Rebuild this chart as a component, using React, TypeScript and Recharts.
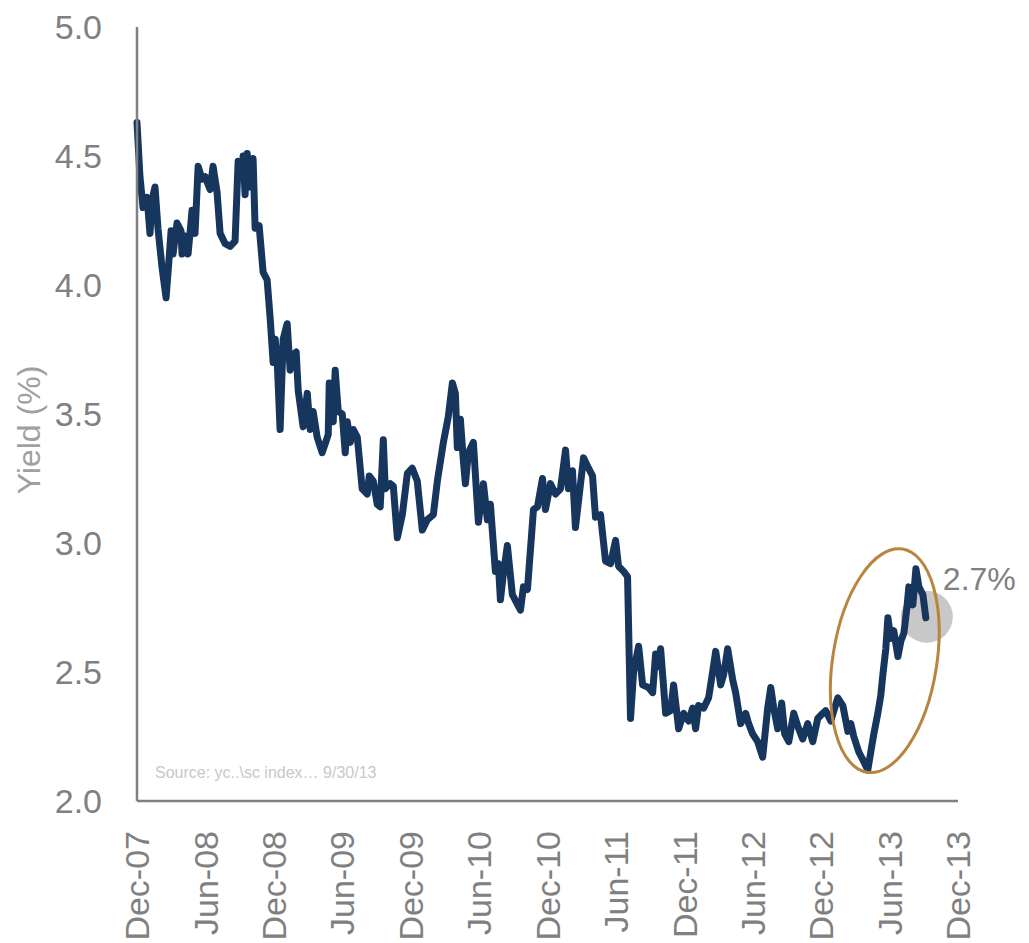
import React from 'react';
import { LineChart, Line, XAxis, YAxis, ReferenceDot } from 'recharts';

// months since Dec-07
const months = [
  0, 0.26, 0.53, 0.88, 1.14, 1.32, 1.58, 1.84, 2.19, 2.55, 2.81, 2.99, 3.16, 3.51, 3.86, 3.95, 4.21, 4.48, 4.83, 5.09,
  5.36, 5.71, 5.97, 6.41, 6.67, 7.02, 7.29, 7.73, 8.17, 8.6, 8.87, 9.22, 9.31, 9.48, 9.66, 9.92, 10.18, 10.36, 10.71, 11.06,
  11.41, 11.68, 11.94, 12.12, 12.29, 12.55, 12.82, 13.17, 13.43, 13.7, 13.96, 14.14, 14.57, 14.93, 15.19, 15.45, 15.8, 16.24, 16.77, 16.86,
  17.21, 17.38, 17.65, 18.0, 18.26, 18.44, 18.7, 18.96, 19.32, 19.75, 20.19, 20.37, 20.72, 21.07, 21.33, 21.6, 21.77, 22.21, 22.48, 22.83,
  23.27, 23.71, 24.14, 24.58, 25.02, 25.46, 25.99, 26.34, 26.87, 27.3, 27.66, 27.92, 28.09, 28.36, 28.62, 28.8, 29.06, 29.5, 29.94, 30.38,
  30.73, 30.99, 31.43, 31.69, 31.87, 32.13, 32.48, 32.92, 33.63, 33.89, 34.24, 34.77, 35.12, 35.56, 35.82, 36.26, 36.7, 37.14, 37.58, 37.84,
  38.19, 38.45, 39.16, 39.6, 39.95, 40.21, 40.65, 41.09, 41.53, 41.97, 42.23, 42.67, 43.02, 43.28, 43.55, 43.99, 44.34, 44.86, 45.22, 45.48,
  45.65, 45.92, 46.36, 46.8, 47.06, 47.5, 47.94, 48.38, 48.73, 48.99, 49.25, 49.69, 50.13, 50.48, 50.75, 51.19, 51.45, 51.8, 52.24, 52.5,
  52.94, 53.38, 53.64, 53.99, 54.43, 54.87, 55.31, 55.58, 55.84, 56.19, 56.54, 56.8, 57.16, 57.59, 57.95, 58.38, 58.82, 59.26, 59.7, 60.14,
  60.4, 60.84, 61.46, 61.9, 62.34, 62.6, 62.86, 63.3, 63.65, 64.09, 64.35, 64.62, 64.97, 65.23, 65.41, 65.67, 65.85, 66.11, 66.37, 66.73,
  66.99, 67.25, 67.52, 67.69, 68.04, 68.31, 68.57, 68.92, 69.18,
];

const yields = [
  4.63, 4.42, 4.3, 4.34, 4.2, 4.33, 4.38, 4.22, 4.07, 3.95, 4.1, 4.21, 4.12, 4.24, 4.21, 4.12, 4.19, 4.12, 4.29, 4.2,
  4.46, 4.41, 4.42, 4.37, 4.46, 4.36, 4.2, 4.16, 4.15, 4.17, 4.48, 4.42, 4.5, 4.35, 4.51, 4.38, 4.49, 4.22, 4.23, 4.05,
  4.02, 3.87, 3.7, 3.79, 3.71, 3.44, 3.79, 3.85, 3.67, 3.73, 3.74, 3.59, 3.45, 3.58, 3.44, 3.51, 3.41, 3.35, 3.42, 3.62,
  3.47, 3.67, 3.51, 3.5, 3.35, 3.47, 3.39, 3.44, 3.41, 3.21, 3.19, 3.26, 3.24, 3.15, 3.14, 3.4, 3.21, 3.23, 3.22, 3.02,
  3.11, 3.27, 3.29, 3.24, 3.05, 3.09, 3.11, 3.24, 3.39, 3.49, 3.62, 3.58, 3.37, 3.48, 3.32, 3.23, 3.35, 3.39, 3.08, 3.23,
  3.09, 3.15, 2.89, 2.92, 2.78, 2.88, 2.99, 2.8, 2.74, 2.83, 2.82, 3.13, 3.14, 3.25, 3.13, 3.23, 3.19, 3.21, 3.36, 3.21,
  3.28, 3.06, 3.33, 3.29, 3.26, 3.1, 3.11, 2.93, 2.92, 3.01, 2.91, 2.89, 2.87, 2.32, 2.5, 2.6, 2.45, 2.44, 2.42, 2.57,
  2.52, 2.59, 2.34, 2.35, 2.45, 2.28, 2.34, 2.31, 2.36, 2.28, 2.37, 2.36, 2.4, 2.5, 2.58, 2.45, 2.49, 2.59, 2.47, 2.42,
  2.3, 2.34, 2.3, 2.26, 2.23, 2.17, 2.36, 2.44, 2.36, 2.28, 2.38, 2.26, 2.23, 2.34, 2.29, 2.24, 2.3, 2.23, 2.32, 2.34,
  2.35, 2.31, 2.4, 2.37, 2.27, 2.3, 2.25, 2.19, 2.16, 2.12, 2.19, 2.26, 2.34, 2.41, 2.49, 2.59, 2.71, 2.63, 2.66, 2.56,
  2.62, 2.65, 2.75, 2.83, 2.76, 2.9, 2.83, 2.8, 2.71,
];

const tickMonths = [0, 6, 12, 18, 24, 30, 36, 42, 48, 54, 60, 66, 72];
const tickLabels = ['Dec-07', 'Jun-08', 'Dec-08', 'Jun-09', 'Dec-09', 'Jun-10', 'Dec-10', 'Jun-11', 'Dec-11', 'Jun-12', 'Dec-12', 'Jun-13', 'Dec-13'];
const yTicks = [2.0, 2.5, 3.0, 3.5, 4.0, 4.5, 5.0];

const lastLabel = '2.7%';
const sourceText = 'Source: yc..\\sc index\u2026 9/30/13';
const highlightCenter = { month: 65.58, value: 2.544 };

const data = months.map((m, i) => ({ t: m, y: yields[i] }));
const lastMonth = months[months.length - 1];
const lastYield = yields[yields.length - 1];

const FONT = '"Liberation Sans", Arial, sans-serif';
const GREY = '#808080';

const XTick = (props: any) => {
  const { x, y, payload } = props;
  const idx = tickMonths.indexOf(payload.value);
  const ty = y + 22;
  return (
    <text
      x={x}
      y={ty}
      transform={`rotate(-90, ${x}, ${ty})`}
      textAnchor="end"
      dy="0.36em"
      fill={GREY}
      fontSize={34}
      fontFamily={FONT}
    >
      {idx >= 0 ? tickLabels[idx] : ''}
    </text>
  );
};

const YTick = (props: any) => {
  const { x, y, payload } = props;
  return (
    <text x={x} y={y} textAnchor="end" dy="0.36em" fill={GREY} fontSize={34} fontFamily={FONT}>
      {Number(payload.value).toFixed(1)}
    </text>
  );
};

const EndCircle = (props: any) => {
  const { cx, cy } = props;
  return <circle cx={cx + 1} cy={cy - 1} r={26} fill="#c8c8c8" />;
};

const EndLabel = (props: any) => {
  const { cx, cy } = props;
  return (
    <text x={cx + 17} y={cy - 28} fill={GREY} fontSize={32} fontFamily={FONT}>
      {lastLabel}
    </text>
  );
};

const EllipseShape = (props: any) => {
  const { cx, cy } = props;
  return (
    <ellipse
      cx={cx}
      cy={cy}
      rx={52}
      ry={113}
      transform={`rotate(9, ${cx}, ${cy})`}
      fill="none"
      stroke="#b8843e"
      strokeWidth={3}
    />
  );
};

const SourceShape = (props: any) => {
  const { cx, cy } = props;
  return (
    <text x={cx + 18} y={cy - 23} fill="#c8c8c8" fontSize={16} fontFamily={FONT}>
      {sourceText}
    </text>
  );
};

const YLabel = (props: any) => {
  const vb = props.viewBox || {};
  const x = (vb.x || 0) + 28;
  const y = (vb.y || 0) + (vb.height || 0) / 2 + 16;
  return (
    <text
      x={x}
      y={y}
      transform={`rotate(-90, ${x}, ${y})`}
      textAnchor="middle"
      dy="0.36em"
      fill="#a0a0a0"
      fontSize={32}
      fontFamily={FONT}
    >
      Yield (%)
    </text>
  );
};

export default function App() {
  return (
    <div style={{ position: 'absolute', left: 0, top: 0, width: 1029, height: 943, background: '#fff' }}>
      <LineChart
        width={1029}
        height={943}
        data={data}
        margin={{ top: 27, right: 71, left: 0, bottom: 0 }}
      >
        <XAxis
          dataKey="t"
          type="number"
          domain={[0, 72]}
          ticks={tickMonths}
          interval={0}
          height={142}
          tickLine={false}
          axisLine={{ stroke: GREY, strokeWidth: 2.5 }}
          tick={<XTick />}
        />
        <YAxis
          type="number"
          domain={[2, 5]}
          ticks={yTicks}
          interval={0}
          width={137}
          tickLine={false}
          tickSize={0}
          tickMargin={35}
          axisLine={{ stroke: GREY, strokeWidth: 2.5 }}
          tick={<YTick />}
          label={{ content: <YLabel /> }}
        />
        <ReferenceDot x={0} y={2} r={0} shape={<SourceShape />} ifOverflow="visible" />
        <ReferenceDot
          x={lastMonth}
          y={lastYield}
          r={26}
          shape={<EndCircle />}
          ifOverflow="visible"
          {...({ zIndex: 300 } as any)}
        />
        <Line
          dataKey="y"
          type="linear"
          stroke="#17365d"
          strokeWidth={7}
          strokeLinejoin="round"
          strokeLinecap="round"
          dot={false}
          activeDot={false}
          isAnimationActive={false}
        />
        <ReferenceDot x={lastMonth} y={lastYield} r={0} shape={<EndLabel />} ifOverflow="visible" />
        <ReferenceDot
          x={highlightCenter.month}
          y={highlightCenter.value}
          r={0}
          shape={<EllipseShape />}
          ifOverflow="visible"
        />
      </LineChart>
    </div>
  );
}
